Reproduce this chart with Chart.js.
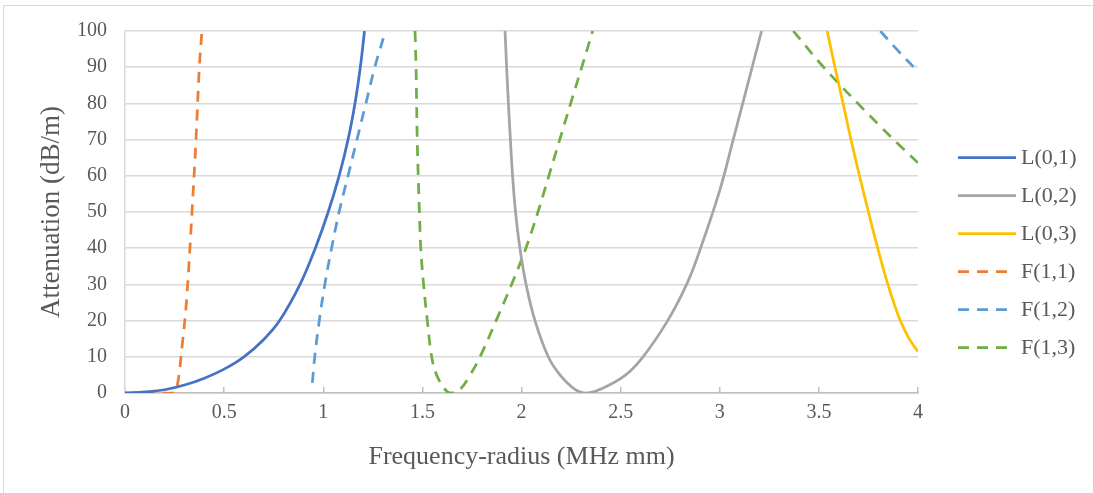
<!DOCTYPE html>
<html>
<head>
<meta charset="utf-8">
<script src="https://cdn.jsdelivr.net/npm/chart.js@4.4.1/dist/chart.umd.min.js"></script>
<style>
  html, body { margin: 0; padding: 0; background: #fff; }
  #frame { position: absolute; left: 3px; top: 5px; width: 1200px; height: 600px;
           border-left: 1px solid #d9d9d9; border-top: 1px solid #d9d9d9; }
  #wrap { position: absolute; left: 0; top: 0; width: 1093px; height: 493px; }
</style>
</head>
<body>
<div id="frame"></div>
<div id="wrap"><canvas id="myChart" width="1093" height="493"></canvas></div>
<script>
"use strict";

// frequency-radius (MHz mm) / attenuation (dB/m)
// null = break in the curve
const l01Freq = [0, 0.1, 0.2, 0.3, 0.4, 0.5, 0.6, 0.7, 0.78, 0.883, 0.96, 1.025, 1.08, 1.125, 1.16, 1.187, 1.208];
const l01Atten = [0, 0.3, 0.9, 2.2, 4.1, 6.6, 10.0, 14.8, 20, 30, 40, 50, 60, 70, 80, 90, 100];

const l02Freq = [1.917, 1.925, 1.934, 1.944, 1.955, 1.970, 1.992, 2.023, 2.068, 2.135, 2.194, 2.27, 2.329, 2.396, 2.514, 2.606, 2.732, 2.833, 2.9, 3.0, 3.068, 3.211];
const l02Atten = [100, 90, 80, 70, 60, 50, 40, 30, 20, 10, 5, 1, 0, 1, 4.5, 9.5, 19.5, 30, 39.5, 56, 70, 100];

const l03Freq = [3.542, 3.581, 3.622, 3.662, 3.705, 3.750, 3.797, 3.848, 3.9, 3.95, 4.0];
const l03Atten = [100, 90, 80, 70, 60, 50, 40, 30, 21.5, 15.5, 11.4];

const f11Freq = [0, 0.244, 0.262, 0.29, 0.311, 0.338, 0.358, 0.375, 0.388];
const f11Atten = [0, 0, 1.5, 14, 26, 50, 70, 90, 100];

const f12Freq = [0.945, 0.957, 0.98, 1.008, 1.042, 1.08, 1.125, 1.17, 1.215, 1.26, 1.303, null, 3.81, 3.9, 4.0];
const f12Atten = [2.8, 10, 20, 30, 40, 50, 60, 70, 80, 90, 98, null, 100, 94.5, 88.8];

const f13Freq = [1.463, 1.468, 1.471, 1.474, 1.479, 1.485, 1.492, 1.506, 1.525, 1.547, 1.572, 1.614, 1.643, 1.69, 1.741, 1.791, 1.872, 1.95, 2.022, 2.083, 2.138, 2.193, 2.248, 2.304, 2.359,
                 null, 3.371, 3.5, 3.6, 3.7, 3.8, 3.9, 4.0];
const f13Atten = [100, 90, 80, 70, 60, 50, 40, 30, 20, 10, 5, 1, 0, 1, 5, 10, 20, 30, 40, 50, 60, 70, 80, 90, 100,
                  null, 100, 91.5, 85.5, 79.8, 74.2, 68.8, 63.6];

const xTicks = [0, 0.5, 1, 1.5, 2, 2.5, 3, 3.5, 4];

const FONT = 'Liberation Serif';
const TEXT = '#595959';
const DASH = [11, 8];

const pairs = (xs, ys) => xs.map((x, i) => ({ x: x, y: ys[i] }));

const makeSet = (label, xs, ys, color, dashed) => ({
  label: label,
  data: pairs(xs, ys),
  showLine: true,
  borderColor: color,
  backgroundColor: color,
  borderWidth: 2.75,
  borderDash: dashed ? DASH : [],
  pointRadius: 0,
  tension: 0.4,
  spanGaps: false
});

const data = {
  datasets: [
    makeSet('L(0,1)', l01Freq, l01Atten, '#4472C4', false),
    makeSet('L(0,2)', l02Freq, l02Atten, '#A5A5A5', false),
    makeSet('L(0,3)', l03Freq, l03Atten, '#FFC000', false),
    makeSet('F(1,1)', f11Freq, f11Atten, '#ED7D31', true),
    makeSet('F(1,2)', f12Freq, f12Atten, '#5B9BD5', true),
    makeSet('F(1,3)', f13Freq, f13Atten, '#70AD47', true)
  ]
};

// legend on the right, short line + label for each series
const sideLegend = {
  id: 'sideLegend',
  afterDraw(chart) {
    const ctx = chart.ctx;
    const x0 = chart.chartArea.right + 40;
    ctx.save();
    chart.data.datasets.forEach((ds, i) => {
      const y = 157.5 + i * 38;
      ctx.strokeStyle = ds.borderColor;
      ctx.lineWidth = ds.borderWidth;
      ctx.setLineDash(ds.borderDash);
      ctx.beginPath();
      ctx.moveTo(x0, y);
      ctx.lineTo(x0 + (ds.borderDash.length ? 51 : 58), y);
      ctx.stroke();
      ctx.setLineDash([]);
      ctx.fillStyle = TEXT;
      ctx.font = '22px "' + FONT + '"';
      ctx.textBaseline = 'middle';
      ctx.fillText(ds.label, x0 + 63, y + 1);
    });
    ctx.restore();
  }
};

const config = {
  type: 'scatter',
  data: data,
  options: {
    responsive: false,
    animation: false,
    layout: { padding: { left: 0, right: 175, top: 31, bottom: 0 } },
    plugins: {
      legend: { display: false },
      tooltip: { enabled: false }
    },
    scales: {
      x: {
        type: 'linear',
        min: 0,
        max: 4,
        afterBuildTicks: scale => { scale.ticks = xTicks.map(v => ({ value: v })); },
        afterFit: scale => { scale.height = 100; },
        ticks: {
          padding: 14,
          color: TEXT,
          font: { family: FONT, size: 20 },
          callback: v => String(v)
        },
        grid: {
          drawOnChartArea: false,
          drawTicks: true,
          tickLength: -6,
          color: '#bfbfbf',
          lineWidth: 1.5
        },
        border: { display: true, color: '#bfbfbf', width: 1.5 },
        title: {
          display: true,
          text: 'Frequency-radius (MHz mm)',
          color: TEXT,
          font: { family: FONT, size: 26 },
          padding: { top: 0, bottom: 20 }
        }
      },
      y: {
        min: 0,
        max: 100,
        afterFit: scale => { scale.width = 125; },
        ticks: {
          stepSize: 10,
          padding: 18,
          color: TEXT,
          font: { family: FONT, size: 20 }
        },
        grid: {
          drawTicks: false,
          color: '#d9d9d9',
          lineWidth: 1.5
        },
        border: { display: true, color: '#d9d9d9', width: 1.5 },
        title: {
          display: true,
          text: 'Attenuation (dB/m)',
          color: TEXT,
          font: { family: FONT, size: 27 },
          padding: { top: 36, bottom: 0 }
        }
      }
    }
  },
  plugins: [sideLegend]
};

const myChart = new Chart(document.getElementById('myChart'), config);
</script>
</body>
</html>
